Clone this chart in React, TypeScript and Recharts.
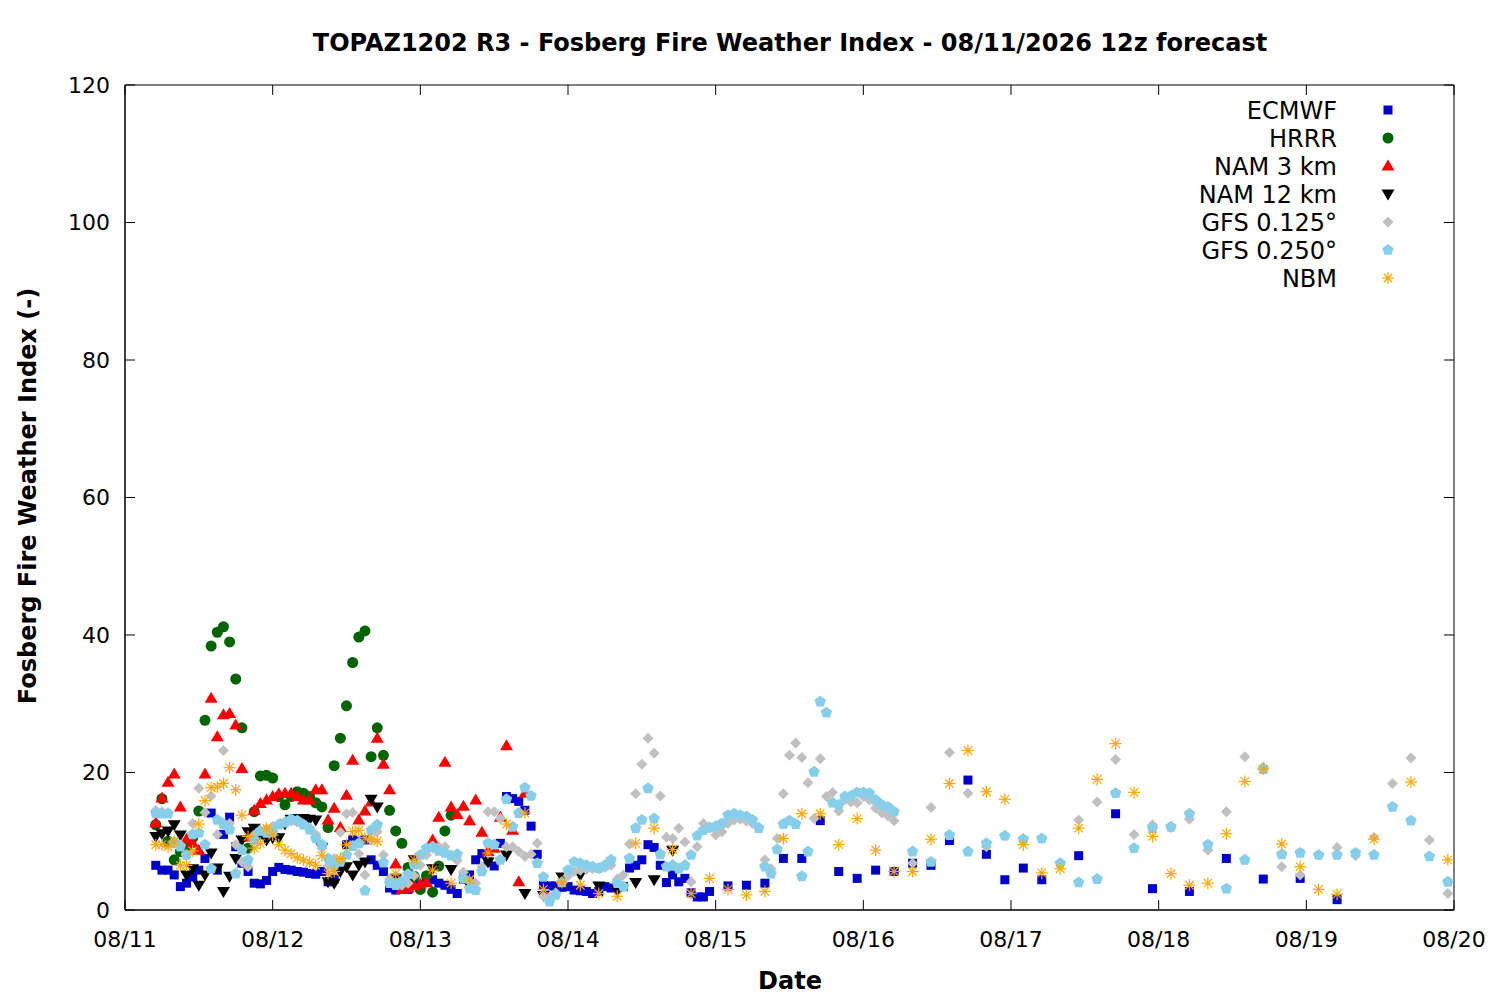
import { ScatterChart, Scatter, XAxis, YAxis, ReferenceArea, ReferenceLine, Legend } from 'recharts';

// 12z run = 05 local on 08/11, x axis counts hours from 08/11 00 local
const RUN_LOCAL_HOUR = 5;
const DATE_TICKS = ['08/11', '08/12', '08/13', '08/14', '08/15', '08/16', '08/17', '08/18', '08/19', '08/20'];
const Y_TICKS = [0, 20, 40, 60, 80, 100, 120];
const FONT = 'DejaVu Sans, Verdana, sans-serif';

function steps(from: number, to: number, by: number) {
    const out: number[] = [];
    for (let f = from; f <= to; f += by) out.push(f);
    return out;
}

// forecast hours of each model output
const ECMWF_HOURS = [...steps(0, 90, 1), ...steps(93, 144, 3), ...steps(150, 192, 6)];
const HRRR_HOURS = steps(0, 48, 1);
const NAM3_HOURS = steps(0, 60, 1);
const NAM12_HOURS = [...steps(0, 36, 1), ...steps(39, 84, 3)];
const GFS_HOURS = [...steps(0, 120, 1), ...steps(123, 210, 3)];
const NBM_HOURS = [...steps(0, 36, 1), ...steps(39, 192, 3), 198, 204, 210];

const ECMWF = [
    6.5, 5.8, 5.8, 5.1, 3.4, 3.9, 4.8, 5.8, 7.5, 14.1,
    5.8, 11, 13.5, 9.2, 6.8, 5.6, 3.9, 3.8, 4.3, 5.6,
    6.2, 5.9, 5.8, 5.6, 5.5, 5.3, 5.2, 5.6, 4.1, 4.5,
    6.8, 9.5, 10.2, 10, 10.2, 7.3, 6.5, 5.6, 3.2, 2.9,
    3, 3, 4.1, 3.2, 4.6, 4.4, 3.9, 3.6, 3, 2.4,
    4.5, 5.1, 7.3, 8.2, 7, 6.4, 9.7, 16.5, 16.2, 15.8,
    14.5, 12.2, 8.1, 3.6, 3.5, 3.5, 3.3, 3.4, 2.9, 2.8,
    2.7, 2.4, 2.7, 3.4, 3.2, 3.2, 3.4, 6.1, 6.5, 7.3,
    9.5, 9.1, 6.5, 4, 5.1, 4.1, 4.6, 2.5, 1.9, 1.9,
    2.7,
    3.5, 3.6, 3.9, 7.5, 7.5, 13, 5.6, 4.6, 5.8, 5.6, 6.8, 6.5, 10.1, 18.9, 8.1, 4.4, 6.1, 4.4,
    7.9, 14, 3.1, 2.7, 7.5, 4.5, 4.6, 1.5,
];

const HRRR = [
    12.4, 16.2, 10, 7.3, 8.5, 9.2, 10.5, 14.4, 27.6, 38.4,
    40.4, 41.2, 39, 33.6, 26.5, 9, 14.3, 19.5, 19.6, 19.2,
    16.5, 15.3, 16.5, 17.2, 17, 16.5, 15.6, 15, 12, 21,
    25, 29.7, 36, 39.7, 40.6, 22.3, 26.5, 22.5, 14.5, 11.5,
    9.7, 6.2, 4.9, 3, 5, 2.6, 6.4, 11.5, 13.8,
];

const NAM3 = [
    12.7, 16.3, 18.6, 19.8, 15, 10.3, 9.7, 8.7, 19.8, 30.8,
    25.2, 28.4, 28.6, 26.9, 20.6, 10.6, 14.5, 15.5, 16, 16.5,
    16.9, 17, 17, 16.5, 16, 16, 17.5, 17.5, 13.1, 14.8,
    12, 16.7, 21.8, 13.1, 14.4, 15.7, 25, 21.2, 17.5, 6.7,
    3, 3.2, 3.5, 3.8, 4, 10.2, 13.5, 21.5, 15, 13.9,
    15.1, 13, 16, 11.3, 8.5, 9, 13.5, 23.9, 11.6, 4.1,
    17,
];

const NAM12 = [
    10.7, 11.1, 11.5, 12.4, 10.9, 5.1, 6, 3.6, 5.1, 8.3,
    6.1, 2.7, 4.9, 7.5, 10.2, 11.4, 11.9, 11, 10.2, 10.5,
    10.5, 12.5, 13.2, 13.3, 13.3, 13.2, 13.1, 9.1, 4.1, 3.9,
    5.6, 6.3, 5.1, 6.5, 7, 16.1, 15,
    4.5, 7.3, 6, 5.9, 3.5, 7, 8, 2.4, 2.1, 4.8, 5.1, 3.5, 2.9, 4, 4.4, 8.7,
];

const GFS_0125 = [
    14.5, 14.3, 14.2, 10, 9.5, 8, 12.6, 17.7, 14.2, 16.6,
    11, 23.2, 12.6, 9.5, 7, 6.3, 10.9, 11.6, 11.8, 12.2,
    12.5, 12.8, 12.9, 12.8, 12.5, 12, 11, 9, 6.4, 7.5,
    11.3, 14, 14.2, 8.2, 5.1, 10.2, 11.4, 8, 4.5, 4,
    3.6, 3.9, 5, 6.5, 8, 9, 9.2, 9.2, 8, 7.2,
    5.5, 4.2, 3.9, 6.3, 14.3, 14.3, 13.3, 9.2, 9.2, 8.5,
    7.8, 8.1, 9.7, 2, 1.9, 2.5, 4.1, 5, 5.6, 5.8,
    5.9, 6, 6, 6.2, 6.5, 4.5, 5.1, 9.6, 16.9, 21.2,
    25, 22.8, 16.6, 10.6, 10.4, 11.9, 9.9, 4.1, 9.2, 12.6,
    11.9, 10.9, 11.4, 12.6, 13.1, 13.2, 12.9, 12.6, 12.1, 7.3,
    6, 10.4, 16.9, 22.5, 24.3, 22.2, 18.5, 13.3, 22, 16.5,
    17.1, 14.4, 16, 15.7, 15.6, 16.5, 16, 14.8, 14.1, 13.7,
    13,
    6.8, 14.9, 22.9, 17, 9.2, 10.8, 10.4, 10.4, 6.8, 13.1,
    15.7, 21.9, 11, 12.4, 12, 13.2, 8.7, 14.3, 22.3, 20.8,
    6.3, 5.1, 8, 9.1, 7.9, 10.6, 18.4, 22.1, 10.2, 2.4,
];

const GFS_0250 = [
    14.1, 14, 14, 9.7, 9.2, 8, 11, 11.2, 9.5, 6,
    13.1, 12.5, 11.7, 5.3, 8.7, 7.3, 10.2, 11.5, 11.2, 11.3,
    12.4, 12.7, 13.2, 13, 12.4, 11.7, 10.4, 9.5, 7.5, 6.5,
    7, 8, 9.3, 9.7, 2.8, 11.6, 12.4, 6.9, 3.9, 3.6,
    4.2, 5.2, 6.6, 8, 9, 9.2, 8.6, 8.3, 7.9, 8.1,
    4.6, 3.1, 2.9, 5.6, 9.7, 9.5, 7.3, 16.1, 12.1, 14.1,
    17.8, 16.6, 6.8, 4.8, 1.2, 2.2, 4, 5.8, 7, 6.8,
    6.5, 6.3, 6.1, 6.5, 7.3, 3.9, 3.4, 7.5, 11.9, 13.1,
    17.7, 13.3, 8.1, 6.3, 6.5, 6, 6.5, 8, 10.8, 11.6,
    12, 12.2, 12.6, 13.8, 14, 13.8, 13.6, 13.1, 11.9, 6.3,
    5.3, 8.8, 12.5, 13, 12.5, 4.9, 8.5, 20.1, 30.3, 28.7,
    15.6, 15.3, 16.5, 16.6, 17.1, 17.1, 17, 16, 15.3, 15,
    14.3,
    8.5, 7, 10.9, 8.5, 9.7, 10.8, 10.3, 10.4, 6.8, 4,
    4.5, 17, 9, 11.9, 12.1, 14, 9.5, 3.1, 7.3, 20.5,
    8.1, 8.3, 8, 8, 8.3, 8, 15, 13, 7.8, 4.1,
];

const NBM = [
    9.5, 9.5, 9.2, 10, 6.5, 6.5, 8.6, 12.5, 15.9, 17.8,
    17.9, 18.4, 20.7, 17.5, 13.8, 10.7, 9, 9.7, 11.9, 10.9,
    9.5, 8.7, 8.2, 7.6, 7.3, 6.9, 6.5, 7.9, 5.3, 5.6,
    7.5, 9.5, 11.4, 11.6, 10.5, 10.3, 10,
    5.3, 7.3, 5.8, 3.9, 4.4, 8.3, 12.5, 14.1, 3, 4,
    3.6, 2.4, 2, 9.7, 11.9, 8.8, 2.4, 4.6, 3, 2.2,
    2.7, 10.4, 14, 14, 9.5, 13.3, 8.7, 5.6, 5.6, 10.3,
    18.4, 23.2, 17.2, 16.1, 9.5, 5.4, 6, 11.9, 19, 24.2,
    17.1, 10.7, 5.3, 3.6, 3.9, 11.1, 18.7, 20.5, 9.6, 6.3,
    3, 2.3,
    10.3, 18.6, 7.3,
];

type Kind = 'square' | 'circle' | 'up' | 'down' | 'diamond' | 'pentagon' | 'star';

const SERIES: { name: string; kind: Kind; color: string; hours: number[]; values: number[] }[] = [
    { name: 'ECMWF', kind: 'square', color: '#0000cc', hours: ECMWF_HOURS, values: ECMWF },
    { name: 'HRRR', kind: 'circle', color: '#006400', hours: HRRR_HOURS, values: HRRR },
    { name: 'NAM 3 km', kind: 'up', color: '#ff0000', hours: NAM3_HOURS, values: NAM3 },
    { name: 'NAM 12 km', kind: 'down', color: '#000000', hours: NAM12_HOURS, values: NAM12 },
    { name: 'GFS 0.125°', kind: 'diamond', color: '#c0c0c0', hours: GFS_HOURS, values: GFS_0125 },
    { name: 'GFS 0.250°', kind: 'pentagon', color: '#87ceeb', hours: GFS_HOURS, values: GFS_0250 },
    { name: 'NBM', kind: 'star', color: '#ffa500', hours: NBM_HOURS, values: NBM },
];

function toPoints(hours: number[], values: number[]) {
    return hours
        .map((f, i) => ({ t: f + RUN_LOCAL_HOUR, v: values[i] }))
        .filter((p) => p.v !== undefined);
}

function Marker({ kind, x, y, color }: { kind: Kind; x: number; y: number; color: string }) {
    if (x == null || y == null || isNaN(x) || isNaN(y)) return null;
    switch (kind) {
        case 'square':
            return <rect x={x - 4.5} y={y - 4.5} width={9} height={9} fill={color} />;
        case 'circle':
            return <circle cx={x} cy={y} r={5.5} fill={color} />;
        case 'up':
            return <polygon points={`${x},${y - 6.5} ${x + 6.5},${y + 4.5} ${x - 6.5},${y + 4.5}`} fill={color} />;
        case 'down':
            return <polygon points={`${x},${y + 6.5} ${x + 6.5},${y - 4.5} ${x - 6.5},${y - 4.5}`} fill={color} />;
        case 'diamond':
            return <polygon points={`${x},${y - 5.5} ${x + 5.5},${y} ${x},${y + 5.5} ${x - 5.5},${y}`} fill={color} />;
        case 'pentagon': {
            const pts = [0, 1, 2, 3, 4]
                .map((k) => {
                    const a = ((-90 + 72 * k) * Math.PI) / 180;
                    return `${x + 6 * Math.cos(a)},${y + 6 * Math.sin(a)}`;
                })
                .join(' ');
            return <polygon points={pts} fill={color} />;
        }
        case 'star': {
            const r = 6;
            const d = r * 0.7071;
            return (
                <g stroke={color} strokeWidth={1.2}>
                    <line x1={x - r} y1={y} x2={x + r} y2={y} />
                    <line x1={x} y1={y - r} x2={x} y2={y + r} />
                    <line x1={x - d} y1={y - d} x2={x + d} y2={y + d} />
                    <line x1={x - d} y1={y + d} x2={x + d} y2={y - d} />
                </g>
            );
        }
    }
    return null;
}

function LegendBox() {
    return (
        <svg width={260} height={200}>
            {SERIES.map((s, i) => {
                const cy = 16 + i * 28;
                return (
                    <g key={s.name}>
                        <text x={187} y={cy + 8.5} textAnchor="end" fontSize={24} fontFamily={FONT} fill="#000">
                            {s.name}
                        </text>
                        <Marker kind={s.kind} x={238} y={cy} color={s.color} />
                    </g>
                );
            })}
        </svg>
    );
}

export default function App() {
    const dayTicks = DATE_TICKS.map((_, i) => i * 24);
    const tickStyle = { fontSize: 22, fill: '#000', fontFamily: FONT };

    return (
        <div style={{ position: 'absolute', left: 0, top: 0, width: 1500, height: 1000, background: '#fff' }}>
            <ScatterChart width={1500} height={1000} margin={{ top: 85, right: 46, bottom: 50, left: 65 }}>
                <XAxis
                    type="number"
                    dataKey="t"
                    domain={[0, 216]}
                    ticks={dayTicks}
                    tickFormatter={(v) => DATE_TICKS[Math.round(v / 24)]}
                    allowDataOverflow
                    height={40}
                    tickLine={false}
                    tickMargin={15}
                    axisLine={{ stroke: '#000' }}
                    tick={tickStyle}
                />
                <YAxis
                    type="number"
                    dataKey="v"
                    domain={[0, 120]}
                    ticks={Y_TICKS}
                    allowDataOverflow
                    width={60}
                    tickLine={false}
                    tickMargin={9}
                    axisLine={{ stroke: '#000' }}
                    tick={tickStyle}
                />
                <ReferenceArea x1={0} x2={216} y1={0} y2={120} fill="none" stroke="#000" strokeWidth={1} fillOpacity={0} />
                {dayTicks.map((t) => (
                    <ReferenceLine key={`b${t}`} segment={[{ x: t, y: 0 }, { x: t, y: 1.45 }]} stroke="#000" />
                ))}
                {dayTicks.map((t) => (
                    <ReferenceLine key={`t${t}`} segment={[{ x: t, y: 120 }, { x: t, y: 118.55 }]} stroke="#000" />
                ))}
                {Y_TICKS.map((v) => (
                    <ReferenceLine key={`l${v}`} segment={[{ x: 0, y: v }, { x: 1.63, y: v }]} stroke="#000" />
                ))}
                {Y_TICKS.map((v) => (
                    <ReferenceLine key={`r${v}`} segment={[{ x: 216, y: v }, { x: 214.37, y: v }]} stroke="#000" />
                ))}
                {SERIES.map((s) => (
                    <Scatter
                        key={s.name}
                        name={s.name}
                        data={toPoints(s.hours, s.values)}
                        fill={s.color}
                        isAnimationActive={false}
                        shape={(p: any) => <Marker kind={s.kind} x={p.cx} y={p.cy} color={s.color} />}
                    />
                ))}
                <Legend
                    layout="vertical"
                    align="center"
                    verticalAlign="middle"
                    wrapperStyle={{ position: 'absolute', left: 1150, top: 94, width: 260, height: 200 }}
                    content={() => <LegendBox />}
                />
            </ScatterChart>
            <svg
                width={1500}
                height={1000}
                style={{ position: 'absolute', left: 0, top: 0, pointerEvents: 'none' }}
            >
                <text x={790} y={51} textAnchor="middle" fontSize={24} fontWeight="bold" fontFamily={FONT}>
                    TOPAZ1202 R3 - Fosberg Fire Weather Index - 08/11/2026 12z forecast
                </text>
                <text x={790} y={989} textAnchor="middle" fontSize={24} fontWeight="bold" fontFamily={FONT}>
                    Date
                </text>
                <text
                    x={0}
                    y={0}
                    transform="translate(36,496) rotate(-90)"
                    textAnchor="middle"
                    fontSize={24}
                    fontWeight="bold"
                    fontFamily={FONT}
                >
                    Fosberg Fire Weather Index (-)
                </text>
            </svg>
        </div>
    );
}
